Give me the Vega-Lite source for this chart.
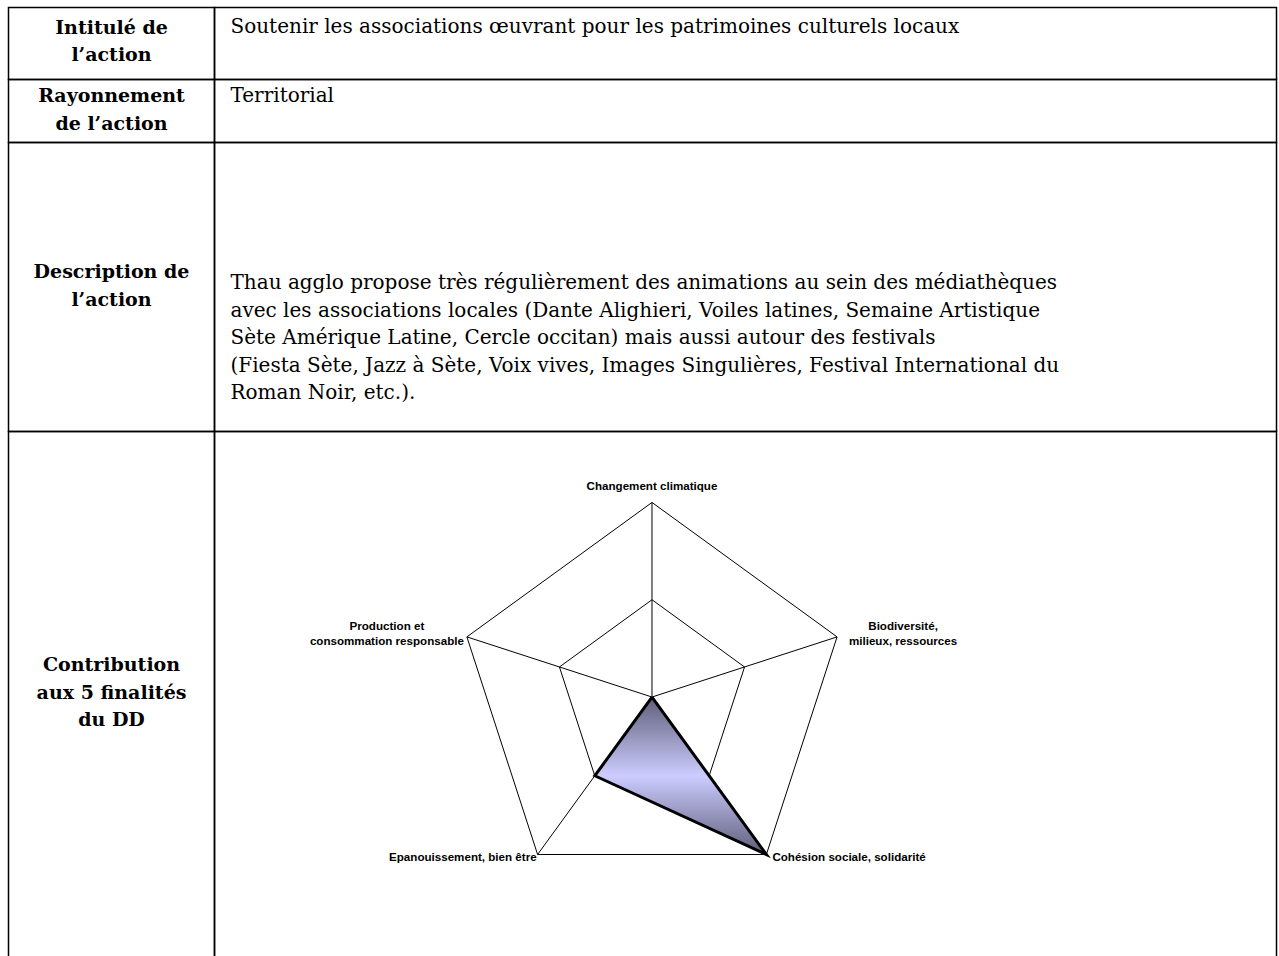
{
  "$schema": "https://vega.github.io/schema/vega-lite/v6.json",
  "background": "white",
  "padding": {"left": 7.5, "top": 6.5, "right": 0, "bottom": 0},
  "config": {
    "view": {"stroke": "black", "strokeWidth": 1.5},
    "text": {"color": "black"}
  },
  "datasets": {
    "libelles": [
      {"rang": 1, "ligne": 1, "texte": "Intitulé de"},
      {"rang": 1, "ligne": 2, "texte": "l’action"},
      {"rang": 2, "ligne": 1, "texte": "Rayonnement"},
      {"rang": 2, "ligne": 2, "texte": "de l’action"},
      {"rang": 3, "ligne": 1, "texte": "Description de"},
      {"rang": 3, "ligne": 2, "texte": "l’action"},
      {"rang": 4, "ligne": 1, "texte": "Contribution"},
      {"rang": 4, "ligne": 2, "texte": "aux 5 finalités"},
      {"rang": 4, "ligne": 3, "texte": "du DD"}
    ],
    "contenus": [
      {"rang": 1, "ligne": 1, "texte": "Soutenir les associations œuvrant pour les patrimoines culturels locaux"},
      {"rang": 2, "ligne": 1, "texte": "Territorial"},
      {"rang": 3, "ligne": 1, "texte": "Thau agglo propose très régulièrement des animations au sein des médiathèques"},
      {"rang": 3, "ligne": 2, "texte": "avec les associations locales (Dante Alighieri, Voiles latines, Semaine Artistique"},
      {"rang": 3, "ligne": 3, "texte": "Sète Amérique Latine, Cercle occitan) mais aussi autour des festivals"},
      {"rang": 3, "ligne": 4, "texte": "(Fiesta Sète, Jazz à Sète, Voix vives, Images Singulières, Festival International du"},
      {"rang": 3, "ligne": 5, "texte": "Roman Noir, etc.)."}
    ],
    "axes": [
      {"ordre": 0, "axe": "Changement climatique", "valeur": 0},
      {"ordre": 1, "axe": "Biodiversité,\nmilieux, ressources", "valeur": 0},
      {"ordre": 2, "axe": "Cohésion sociale, solidarité", "valeur": 2},
      {"ordre": 3, "axe": "Epanouissement, bien être", "valeur": 1},
      {"ordre": 4, "axe": "Production et\nconsommation responsable", "valeur": 0}
    ],
    "grille": [
      {"niveau": 1, "ordre": 0}, {"niveau": 1, "ordre": 1}, {"niveau": 1, "ordre": 2},
      {"niveau": 1, "ordre": 3}, {"niveau": 1, "ordre": 4}, {"niveau": 1, "ordre": 5},
      {"niveau": 2, "ordre": 0}, {"niveau": 2, "ordre": 1}, {"niveau": 2, "ordre": 2},
      {"niveau": 2, "ordre": 3}, {"niveau": 2, "ordre": 4}, {"niveau": 2, "ordre": 5}
    ]
  },
  "columns": 2,
  "spacing": 0,
  "bounds": "flush",
  "concat": [
    {
      "width": 206, "height": 72,
      "data": {"name": "libelles"},
      "transform": [{"filter": "datum.rang == 1"}],
      "mark": {"type": "text", "font": "DejaVu Serif", "fontWeight": "bold", "fontSize": 19, "align": "center", "baseline": "middle"},
      "encoding": {
        "y": {"field": "ligne", "type": "quantitative", "scale": {"domain": [0.2545, 2.873], "reverse": true, "nice": false, "zero": false}, "axis": null},
        "text": {"field": "texte", "type": "nominal"}
      }
    },
    {
      "width": 1062, "height": 72,
      "data": {"name": "contenus"},
      "transform": [{"filter": "datum.rang == 1"}, {"calculate": "0", "as": "gauche"}],
      "mark": {"type": "text", "font": "DejaVu Serif", "fontSize": 20, "align": "left", "baseline": "middle", "dx": 16},
      "encoding": {
        "x": {"field": "gauche", "type": "quantitative", "scale": {"domain": [0, 1], "nice": false, "zero": false}, "axis": null},
        "y": {"field": "ligne", "type": "quantitative", "scale": {"domain": [0.309, 2.927], "reverse": true, "nice": false, "zero": false}, "axis": null},
        "text": {"field": "texte", "type": "nominal"}
      }
    },
    {
      "width": 206, "height": 63,
      "data": {"name": "libelles"},
      "transform": [{"filter": "datum.rang == 2"}],
      "mark": {"type": "text", "font": "DejaVu Serif", "fontWeight": "bold", "fontSize": 19, "align": "center", "baseline": "middle"},
      "encoding": {
        "y": {"field": "ligne", "type": "quantitative", "scale": {"domain": [0.382, 2.673], "reverse": true, "nice": false, "zero": false}, "axis": null},
        "text": {"field": "texte", "type": "nominal"}
      }
    },
    {
      "width": 1062, "height": 63,
      "data": {"name": "contenus"},
      "transform": [{"filter": "datum.rang == 2"}, {"calculate": "0", "as": "gauche"}],
      "mark": {"type": "text", "font": "DejaVu Serif", "fontSize": 20, "align": "left", "baseline": "middle", "dx": 16},
      "encoding": {
        "x": {"field": "gauche", "type": "quantitative", "scale": {"domain": [0, 1], "nice": false, "zero": false}, "axis": null},
        "y": {"field": "ligne", "type": "quantitative", "scale": {"domain": [0.382, 2.673], "reverse": true, "nice": false, "zero": false}, "axis": null},
        "text": {"field": "texte", "type": "nominal"}
      }
    },
    {
      "width": 206, "height": 289,
      "data": {"name": "libelles"},
      "transform": [{"filter": "datum.rang == 3"}],
      "mark": {"type": "text", "font": "DejaVu Serif", "fontWeight": "bold", "fontSize": 19, "align": "center", "baseline": "middle"},
      "encoding": {
        "y": {"field": "ligne", "type": "quantitative", "scale": {"domain": [-3.727, 6.782], "reverse": true, "nice": false, "zero": false}, "axis": null},
        "text": {"field": "texte", "type": "nominal"}
      }
    },
    {
      "width": 1062, "height": 289,
      "data": {"name": "contenus"},
      "transform": [{"filter": "datum.rang == 3"}, {"calculate": "0", "as": "gauche"}],
      "mark": {"type": "text", "font": "DejaVu Serif", "fontSize": 20, "align": "left", "baseline": "middle", "dx": 16},
      "encoding": {
        "x": {"field": "gauche", "type": "quantitative", "scale": {"domain": [0, 1], "nice": false, "zero": false}, "axis": null},
        "y": {"field": "ligne", "type": "quantitative", "scale": {"domain": [-4.127, 6.382], "reverse": true, "nice": false, "zero": false}, "axis": null},
        "text": {"field": "texte", "type": "nominal"}
      }
    },
    {
      "width": 206, "height": 527,
      "data": {"name": "libelles"},
      "transform": [{"filter": "datum.rang == 4"}],
      "mark": {"type": "text", "font": "DejaVu Serif", "fontWeight": "bold", "fontSize": 19, "align": "center", "baseline": "middle"},
      "encoding": {
        "y": {"field": "ligne", "type": "quantitative", "scale": {"domain": [-7.509, 11.655], "reverse": true, "nice": false, "zero": false}, "axis": null},
        "text": {"field": "texte", "type": "nominal"}
      }
    },
    {
      "width": 1062, "height": 527,
      "layer": [
        {
          "data": {"name": "grille"},
          "transform": [
            {"calculate": "PI/2 - datum.ordre*2*PI/5", "as": "theta"},
            {"calculate": "datum.niveau*cos(datum.theta)", "as": "gx"},
            {"calculate": "datum.niveau*sin(datum.theta)", "as": "gy"}
          ],
          "mark": {"type": "line", "stroke": "black", "strokeWidth": 1},
          "encoding": {
            "x": {"field": "gx", "type": "quantitative", "scale": {"domain": [-4.496, 6.418], "nice": false, "zero": false}, "axis": null},
            "y": {"field": "gy", "type": "quantitative", "scale": {"domain": [-2.687, 2.729], "nice": false, "zero": false}, "axis": null},
            "detail": {"field": "niveau", "type": "nominal"},
            "order": {"field": "ordre", "type": "quantitative"}
          }
        },
        {
          "data": {"name": "axes"},
          "transform": [
            {"calculate": "PI/2 - datum.ordre*2*PI/5", "as": "theta"},
            {"calculate": "0", "as": "cx"},
            {"calculate": "0", "as": "cy"},
            {"calculate": "2*cos(datum.theta)", "as": "vx"},
            {"calculate": "2*sin(datum.theta)", "as": "vy"}
          ],
          "mark": {"type": "rule", "stroke": "black", "strokeWidth": 1},
          "encoding": {
            "x": {"field": "cx", "type": "quantitative", "scale": {"domain": [-4.496, 6.418], "nice": false, "zero": false}, "axis": null},
            "y": {"field": "cy", "type": "quantitative", "scale": {"domain": [-2.687, 2.729], "nice": false, "zero": false}, "axis": null},
            "x2": {"field": "vx"},
            "y2": {"field": "vy"}
          }
        },
        {
          "data": {"name": "axes"},
          "transform": [
            {"calculate": "PI/2 - datum.ordre*2*PI/5", "as": "theta"},
            {"calculate": "datum.valeur*cos(datum.theta)", "as": "px"},
            {"calculate": "datum.valeur*sin(datum.theta)", "as": "py"}
          ],
          "mark": {
            "type": "line", "stroke": "black", "strokeWidth": 3, "strokeJoin": "miter",
            "fill": {"gradient": "linear", "x1": 0, "y1": 0, "x2": 0, "y2": 1,
              "stops": [
                {"offset": 0, "color": "#5e5e7a"},
                {"offset": 0.5, "color": "#ccccff"},
                {"offset": 1, "color": "#5e5e7a"}
              ]}
          },
          "encoding": {
            "x": {"field": "px", "type": "quantitative", "scale": {"domain": [-4.496, 6.418], "nice": false, "zero": false}, "axis": null},
            "y": {"field": "py", "type": "quantitative", "scale": {"domain": [-2.687, 2.729], "nice": false, "zero": false}, "axis": null},
            "order": {"field": "ordre", "type": "quantitative"}
          }
        },
        {
          "data": {"name": "axes"},
          "transform": [
            {"filter": "datum.ordre == 0"},
            {"calculate": "PI/2 - datum.ordre*2*PI/5", "as": "theta"},
            {"calculate": "2*cos(datum.theta)", "as": "lx"},
            {"calculate": "2*sin(datum.theta)", "as": "ly"}
          ],
          "mark": {"type": "text", "font": "Liberation Sans", "fontWeight": "bold", "fontSize": 11.6, "align": "center", "baseline": "alphabetic", "dy": -12},
          "encoding": {
            "x": {"field": "lx", "type": "quantitative", "scale": {"domain": [-4.496, 6.418], "nice": false, "zero": false}, "axis": null},
            "y": {"field": "ly", "type": "quantitative", "scale": {"domain": [-2.687, 2.729], "nice": false, "zero": false}, "axis": null},
            "text": {"field": "axe", "type": "nominal"}
          }
        },
        {
          "data": {"name": "axes"},
          "transform": [
            {"filter": "datum.ordre == 1"},
            {"calculate": "PI/2 - datum.ordre*2*PI/5", "as": "theta"},
            {"calculate": "2*cos(datum.theta)", "as": "lx"},
            {"calculate": "2*sin(datum.theta)", "as": "ly"}
          ],
          "mark": {"type": "text", "font": "Liberation Sans", "fontWeight": "bold", "fontSize": 11.6, "align": "center", "baseline": "middle", "lineBreak": "\n", "lineHeight": 15, "dx": 66, "dy": -10},
          "encoding": {
            "x": {"field": "lx", "type": "quantitative", "scale": {"domain": [-4.496, 6.418], "nice": false, "zero": false}, "axis": null},
            "y": {"field": "ly", "type": "quantitative", "scale": {"domain": [-2.687, 2.729], "nice": false, "zero": false}, "axis": null},
            "text": {"field": "axe", "type": "nominal"}
          }
        },
        {
          "data": {"name": "axes"},
          "transform": [
            {"filter": "datum.ordre == 2"},
            {"calculate": "PI/2 - datum.ordre*2*PI/5", "as": "theta"},
            {"calculate": "2*cos(datum.theta)", "as": "lx"},
            {"calculate": "2*sin(datum.theta)", "as": "ly"}
          ],
          "mark": {"type": "text", "font": "Liberation Sans", "fontWeight": "bold", "fontSize": 11.6, "align": "left", "baseline": "alphabetic", "dx": 6, "dy": 7},
          "encoding": {
            "x": {"field": "lx", "type": "quantitative", "scale": {"domain": [-4.496, 6.418], "nice": false, "zero": false}, "axis": null},
            "y": {"field": "ly", "type": "quantitative", "scale": {"domain": [-2.687, 2.729], "nice": false, "zero": false}, "axis": null},
            "text": {"field": "axe", "type": "nominal"}
          }
        },
        {
          "data": {"name": "axes"},
          "transform": [
            {"filter": "datum.ordre == 3"},
            {"calculate": "PI/2 - datum.ordre*2*PI/5", "as": "theta"},
            {"calculate": "2*cos(datum.theta)", "as": "lx"},
            {"calculate": "2*sin(datum.theta)", "as": "ly"}
          ],
          "mark": {"type": "text", "font": "Liberation Sans", "fontWeight": "bold", "fontSize": 11.6, "align": "right", "baseline": "alphabetic", "dx": -1, "dy": 7},
          "encoding": {
            "x": {"field": "lx", "type": "quantitative", "scale": {"domain": [-4.496, 6.418], "nice": false, "zero": false}, "axis": null},
            "y": {"field": "ly", "type": "quantitative", "scale": {"domain": [-2.687, 2.729], "nice": false, "zero": false}, "axis": null},
            "text": {"field": "axe", "type": "nominal"}
          }
        },
        {
          "data": {"name": "axes"},
          "transform": [
            {"filter": "datum.ordre == 4"},
            {"calculate": "PI/2 - datum.ordre*2*PI/5", "as": "theta"},
            {"calculate": "2*cos(datum.theta)", "as": "lx"},
            {"calculate": "2*sin(datum.theta)", "as": "ly"}
          ],
          "mark": {"type": "text", "font": "Liberation Sans", "fontWeight": "bold", "fontSize": 11.6, "align": "center", "baseline": "middle", "lineBreak": "\n", "lineHeight": 15, "dx": -80, "dy": -10},
          "encoding": {
            "x": {"field": "lx", "type": "quantitative", "scale": {"domain": [-4.496, 6.418], "nice": false, "zero": false}, "axis": null},
            "y": {"field": "ly", "type": "quantitative", "scale": {"domain": [-2.687, 2.729], "nice": false, "zero": false}, "axis": null},
            "text": {"field": "axe", "type": "nominal"}
          }
        }
      ]
    }
  ]
}
